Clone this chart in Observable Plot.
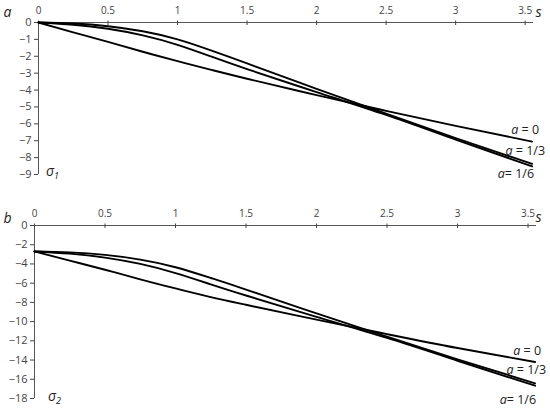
<!DOCTYPE html>
<html><head><meta charset="utf-8">
<script src="https://cdn.jsdelivr.net/npm/d3@7"></script>
<script src="https://cdn.jsdelivr.net/npm/@observablehq/plot@0.6"></script>
<style>
body{margin:0;background:#fff;}
#chart svg{display:block;}
</style>
</head><body><div id="chart"></div>
<script>
// ---- data ----
const sValues = [0, 0.25, 0.5, 0.75, 1, 1.25, 1.5, 2, 2.5, 3, 3.55];
const seriesNames = ["a = 0", "a = 1/3", "a= 1/6"];
const xTicks = [0, 0.5, 1, 1.5, 2, 2.5, 3, 3.5];

// panel a: sigma_1
const sigma1_a0  = [0, -0.58, -1.15, -1.73, -2.29, -2.82, -3.33, -4.30, -5.23, -6.12, -7.05];
const sigma1_a13 = [0, -0.06, -0.22, -0.52, -1.00, -1.68, -2.42, -3.93, -5.40, -6.85, -8.37];
const sigma1_a16 = [0, -0.13, -0.37, -0.76, -1.32, -2.04, -2.76, -4.12, -5.47, -6.93, -8.52];
const yTicksA = [0, -1, -2, -3, -4, -5, -6, -7, -8, -9];

// panel b: sigma_2
const sigma2_a0  = [-2.7, -3.66, -4.6, -5.6, -6.55, -7.45, -8.25, -9.8, -11.3, -12.75, -14.2];
const sigma2_a13 = [-2.7, -2.80, -3.06, -3.55, -4.34, -5.46, -6.67, -9.15, -11.56, -13.93, -16.42];
const sigma2_a16 = [-2.7, -2.93, -3.34, -4.00, -4.95, -6.12, -7.28, -9.50, -11.70, -14.07, -16.67];
const yTicksB = [0, -2, -4, -6, -8, -10, -12, -14, -16, -18];

function toRows(lists) {
  const rows = [];
  lists.forEach((vals, k) => vals.forEach((v, i) => rows.push({series: seriesNames[k], s: sValues[i], v})));
  return rows;
}

function panel(cfg) {
  const rows = toRows(cfg.lists);
  const ends = rows.filter(d => d.s === sValues[sValues.length - 1]);
  const font = "'Open Sans', 'DejaVu Sans', sans-serif";
  const svg = Plot.plot({
    width: 550,
    height: cfg.height,
    marginTop: cfg.marginTop,
    marginBottom: cfg.marginBottom,
    marginLeft: cfg.marginLeft,
    marginRight: cfg.marginRight,
    style: {fontFamily: font, fontSize: "10px", color: "#444", background: "#fff"},
    x: {domain: [0, 3.56]},
    y: {domain: cfg.yDomain},
    marks: [
      Plot.ruleY([0], {stroke: "#555", strokeWidth: 1}),
      Plot.ruleX([0], {stroke: "#555", strokeWidth: 1}),
      Plot.axisX({anchor: "top", ticks: xTicks, tickSize: 2.5, text: null, label: null}),
      Plot.axisX({anchor: "top", ticks: xTicks, tickSize: -2, text: null, label: null}),
      Plot.axisX({anchor: "top", ticks: xTicks, tickSize: 0, tickPadding: 9, label: null, tickFormat: d => String(d)}),
      Plot.axisY({ticks: cfg.yTicks, tickSize: 4, tickPadding: 3, label: null, fontSize: 11}),
      Plot.line(rows, {x: "s", y: "v", z: "series", stroke: "#000", strokeWidth: 1.9, curve: "natural"}),
      ...ends.map((d, k) => Plot.text([d], {
        x: "s", y: "v", text: "series", textAnchor: "end",
        dx: cfg.labelOffsets[k][0], dy: cfg.labelOffsets[k][1],
        fontSize: 12.5, fill: "#222", fontFamily: font
      })),
      Plot.text([cfg.axisLetter], {frameAnchor: "top-left", text: d => d, textAnchor: "middle", lineAnchor: "middle",
        dx: cfg.letterOffset[0], dy: cfg.letterOffset[1], fontSize: 14, fontStyle: "italic", fill: "#222", fontFamily: font}),
      Plot.text(["s"], {frameAnchor: "top-right", text: d => d, textAnchor: "middle", lineAnchor: "middle",
        dx: cfg.sOffset[0], dy: cfg.sOffset[1], fontSize: 14, fontStyle: "italic", fill: "#222", fontFamily: font}),
      Plot.text([cfg.sigma], {frameAnchor: "bottom-left", text: d => d, textAnchor: "middle", lineAnchor: "middle",
        dx: cfg.sigmaOffset[0], dy: cfg.sigmaOffset[1], fontSize: 14, fill: "#222", fontFamily: font})
    ]
  });
  // style text: italic "a" in the curve labels, subscript in sigma label
  d3.select(svg).selectAll("text").each(function() {
    const t = this.textContent;
    const m = t.match(/^a( ?=.*)$/);
    if (m) {
      const sel = d3.select(this);
      sel.text(null);
      sel.append("tspan").attr("font-style", "italic").text("a");
      sel.append("tspan").text(m[1]);
    } else if (/^σ\d$/.test(t)) {
      const sel = d3.select(this);
      sel.text(null);
      sel.append("tspan").attr("font-style", "italic").text("σ");
      sel.append("tspan").attr("font-size", "9px").attr("font-style", "italic").attr("dy", "3").text(t.slice(1));
    }
  });
  return svg;
}

const chart = document.getElementById("chart");
chart.appendChild(panel({
  lists: [sigma1_a0, sigma1_a13, sigma1_a16],
  yDomain: [-9, 0], yTicks: yTicksA,
  height: 200, marginTop: 22, marginBottom: 26, marginLeft: 38, marginRight: 17,
  labelOffsets: [[7, -12], [13, -13], [2, 8]],
  axisLetter: "a", letterOffset: [-31, -10],
  sOffset: [5, -10],
  sigma: "σ1", sigmaOffset: [14, -3]
}));
chart.appendChild(panel({
  lists: [sigma2_a0, sigma2_a13, sigma2_a16],
  yDomain: [-18, 0], yTicks: yTicksB,
  height: 212, marginTop: 25, marginBottom: 14, marginLeft: 34, marginRight: 14,
  labelOffsets: [[6, -11], [11, -13], [1, 14]],
  axisLetter: "b", letterOffset: [-27, -7],
  sOffset: [2, -8],
  sigma: "σ2", sigmaOffset: [20, -2]
}));
</script></body></html>
